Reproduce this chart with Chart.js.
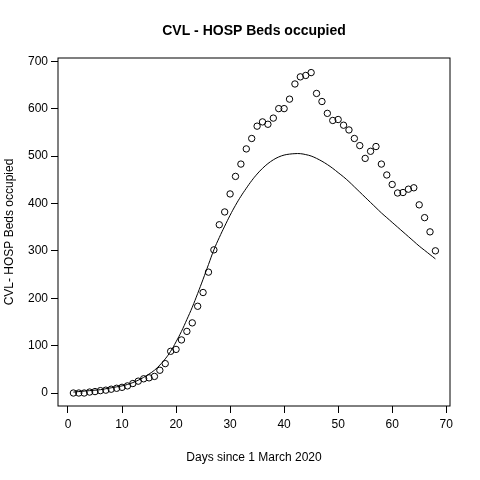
<!DOCTYPE html>
<html>
<head>
<script src="https://cdn.jsdelivr.net/npm/chart.js@4"></script>
<style>body{margin:0;background:#fff}</style>
</head>
<body>
<canvas id="c" width="480" height="480"></canvas>
<script>
const days = Array.from({length: 68}, (_, i) => i + 1);
const observed = [0,0,0,2,3,5,6,8,10,12,15,20,25,30,32,35,48,62,88,92,112,130,148,183,212,255,302,355,382,420,
  457,483,515,537,563,572,567,580,600,600,620,652,667,670,676,632,615,590,575,577,565,555,537,522,495,510,520,483,460,440,
  422,423,430,433,397,370,340,300];
const fitted = [2,3,4,5,6,7,9,11,13,15,18,22,27,33,40,48,59,72,88,108,130,155,181,210,240,271,302,328,352,375,
  396,415,432,448,462,474,484,492,498,502,504,505,505,503,500,495,489,482,474,465,456,446,435,424,413,402,391,380,370,360,
  350,340,330,320,310,301,292,283];
const xTicks = [0,10,20,30,40,50,60,70];
const yTicks = [0,100,200,300,400,500,600,700];

const font = {family: 'Liberation Sans, Arial', size: 12};

const frame = {
  id: 'frame',
  afterDraw(chart) {
    const {ctx, chartArea: a} = chart;
    ctx.save();
    ctx.strokeStyle = '#000'; ctx.lineWidth = 1;
    ctx.strokeRect(a.left, a.top, a.right - a.left, a.bottom - a.top);
    ctx.fillStyle = '#000';
    ctx.textAlign = 'center';
    ctx.font = 'bold 14px Liberation Sans, Arial';
    ctx.fillText('CVL - HOSP Beds occupied', 254, 35);
    ctx.font = '12px Liberation Sans, Arial';
    ctx.fillText('Days since 1 March 2020', 254, 461);
    ctx.translate(13, 232); ctx.rotate(-Math.PI / 2);
    ctx.fillText('CVL- HOSP Beds occupied', 0, 0);
    ctx.restore();
  }
};

new Chart(document.getElementById('c'), {
  data: {
    datasets: [
      {type: 'scatter', data: days.map((d, i) => ({x: d, y: observed[i]})),
        pointStyle: 'circle', pointRadius: 3.2, borderColor: '#000', borderWidth: 1, backgroundColor: 'rgba(0,0,0,0)'},
      {type: 'line', data: days.map((d, i) => ({x: d, y: fitted[i]})),
        borderColor: '#000', borderWidth: 1, pointRadius: 0, fill: false, tension: 0.4}
    ]
  },
  options: {
    responsive: false, animation: false,
    layout: {padding: {top: 58, right: 30, left: 0, bottom: 0}},
    plugins: {legend: {display: false}, tooltip: {enabled: false}},
    scales: {
      x: {type: 'linear', min: -1.85, max: 70.7,
        afterBuildTicks: s => { s.ticks = xTicks.map(v => ({value: v})); },
        afterFit: s => { s.height = 74; },
        grid: {drawOnChartArea: false, color: '#000', tickLength: 7},
        border: {display: false},
        ticks: {color: '#000', font, padding: 4}},
      y: {min: -27.4, max: 706.8,
        afterBuildTicks: s => { s.ticks = yTicks.map(v => ({value: v})); },
        afterFit: s => { s.width = 58; },
        grid: {drawOnChartArea: false, color: '#000', tickLength: 7},
        border: {display: false},
        ticks: {color: '#000', font, padding: 3}}
    }
  },
  plugins: [frame]
});
</script>
</body>
</html>
